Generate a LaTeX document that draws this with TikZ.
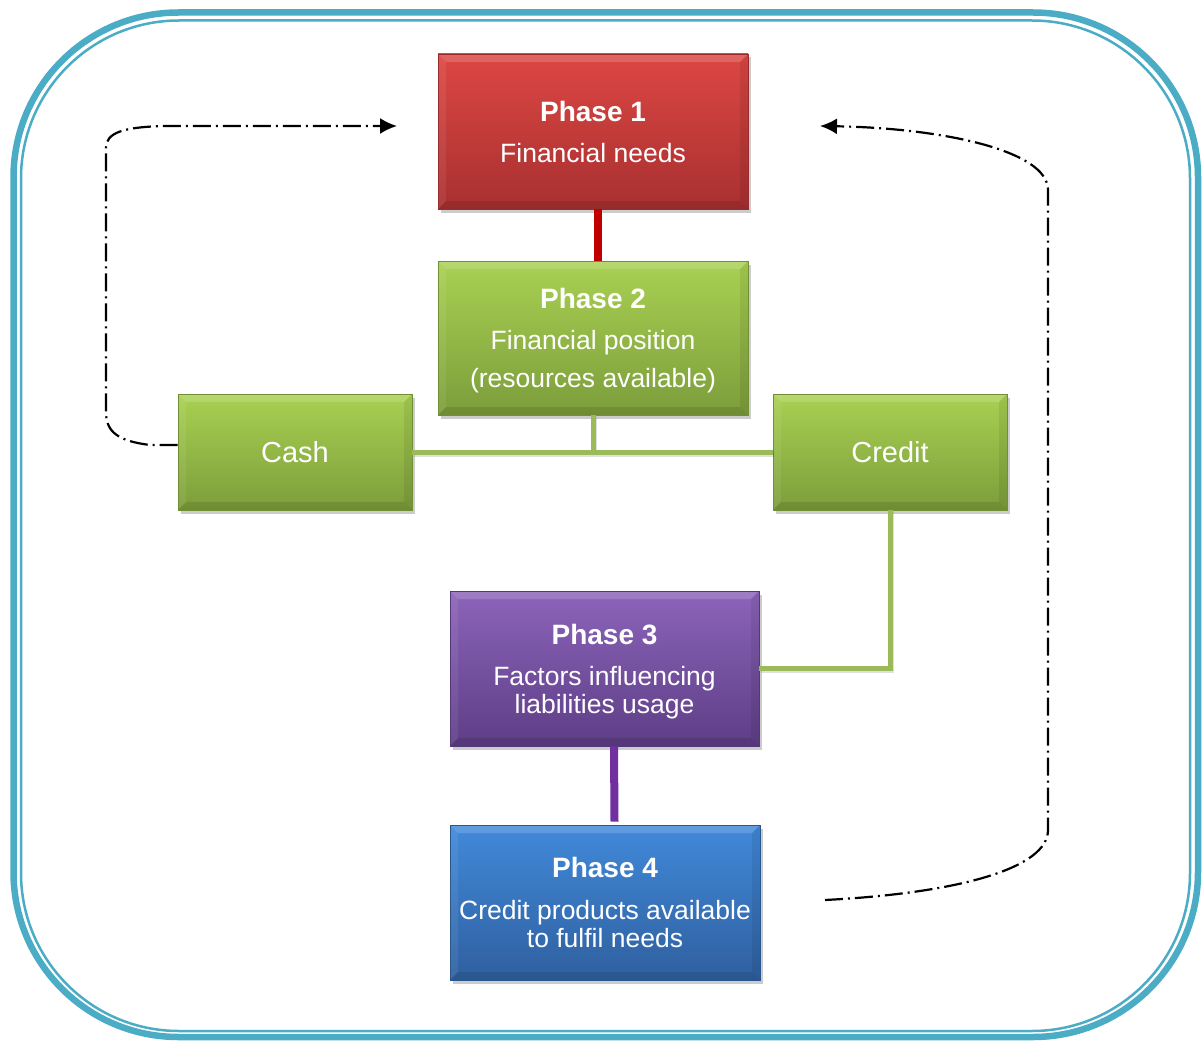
\documentclass[tikz,border=0pt]{standalone}
\usepackage{fontspec}
\setmainfont{Liberation Sans}
\usetikzlibrary{shadows,arrows.meta,calc}
\definecolor{frameblue}{HTML}{4BACC6}
\definecolor{redA}{HTML}{DC4743}
\definecolor{redB}{HTML}{A83030}
\definecolor{redE}{HTML}{9A2B2B}
\definecolor{grnA}{HTML}{A9D152}
\definecolor{grnB}{HTML}{7C9D3B}
\definecolor{grnE}{HTML}{718F35}
\definecolor{purA}{HTML}{8C64BA}
\definecolor{purB}{HTML}{5E3E86}
\definecolor{purE}{HTML}{553879}
\definecolor{bluA}{HTML}{4189DA}
\definecolor{bluB}{HTML}{2F609F}
\definecolor{bluE}{HTML}{2B578F}
\definecolor{glink}{HTML}{9BBB59}
\definecolor{rlink}{HTML}{C00000}
\definecolor{plink}{HTML}{7030A0}
\newcommand\titlef{\bfseries\fontsize{28}{28}\selectfont}
\tikzset{
  boxbase/.style={rectangle, inner sep=0pt, text=white, align=center,
    line width=0.6pt,
    font=\fontsize{26.5}{28}\selectfont,
    drop shadow={shadow xshift=2.5pt, shadow yshift=-3.5pt, opacity=0.2, fill=black},
    path picture={
      \fill[white,opacity=0.16] (path picture bounding box.north west) -- (path picture bounding box.north east)
        -- ([xshift=-8pt,yshift=-8pt]path picture bounding box.north east) -- ([xshift=8pt,yshift=-8pt]path picture bounding box.north west) -- cycle;
      \fill[white,opacity=0.07] (path picture bounding box.north west) -- ([xshift=8pt,yshift=-8pt]path picture bounding box.north west)
        -- ([xshift=8pt,yshift=8pt]path picture bounding box.south west) -- (path picture bounding box.south west) -- cycle;
      \fill[black,opacity=0.07] (path picture bounding box.north east) -- ([xshift=-8pt,yshift=-8pt]path picture bounding box.north east)
        -- ([xshift=-8pt,yshift=8pt]path picture bounding box.south east) -- (path picture bounding box.south east) -- cycle;
      \fill[black,opacity=0.10] (path picture bounding box.south west) -- (path picture bounding box.south east)
        -- ([xshift=-8pt,yshift=8pt]path picture bounding box.south east) -- ([xshift=8pt,yshift=8pt]path picture bounding box.south west) -- cycle;
    }},
  phasebox/.style={boxbase, minimum width=310pt, minimum height=155pt},
  sidebox/.style={boxbase, minimum width=234pt, minimum height=116pt, font=\fontsize{29}{30}\selectfont},
  redfill/.style={top color=redA, bottom color=redB, draw=redE},
  grnfill/.style={top color=grnA, bottom color=grnB, draw=grnE},
  purfill/.style={top color=purA, bottom color=purB, draw=purE},
  blufill/.style={top color=bluA, bottom color=bluB, draw=bluE},
  gline/.style={glink, line width=5pt},
  gshadow/.style={black, opacity=0.12, line width=5pt, transform canvas={xshift=1.5pt,yshift=-2pt}},
  dashdot/.style={black, line width=2.2pt, dash pattern=on 18pt off 5pt on 2pt off 5pt,
    -{Latex[length=17pt,width=16pt]}}
}
\begin{document}
\begin{tikzpicture}[x=1pt,y=-1pt]
\useasboundingbox (0,0) rectangle (1202,1041);
\fill[white] (0,0) rectangle (1202,1041);
\draw[frameblue, line width=6.5pt, rounded corners=165pt] (13.5,12.5) rectangle (1198,1037);
\draw[frameblue, line width=2.5pt, rounded corners=158pt] (21,20.5) rectangle (1190,1031);

\node[phasebox, redfill] (p1) at (593,131.5) {{\titlef Phase 1}\\[13pt]Financial needs};
\node[phasebox, grnfill, minimum height=154pt] (p2) at (593,338) {{\titlef Phase 2}\\[13pt]Financial position\\[10pt]\smash{(resources available)}};
\node[sidebox, grnfill] (cash) at (295,452) {Cash};
\node[sidebox, grnfill] (credit) at (890,452) {Credit};
\node[phasebox, purfill, minimum width=309pt] (p3) at (604.5,668.5) {{\titlef Phase 3}\\[13pt]Factors influencing\\\smash{liabilities usage}};
\node[phasebox, blufill] (p4) at (605,902.5) {{\titlef Phase 4}\\[14pt]Credit products available\\to fulfil needs};

% connectors
\draw[rlink, line width=8pt] ([xshift=5pt]p1.south) -- ([xshift=5pt]p2.north);
\draw[plink, line width=8pt] ([xshift=9.5pt]p3.south) -- ([xshift=9.5pt,yshift=3pt]p4.north);

\draw[gshadow] (p2.south) -- (p2.south |- cash.east);
\draw[gshadow] (cash.east) -- (credit.west);
\draw[gshadow] (credit.south) |- (p3.east);
\draw[gline] (p2.south) -- (p2.south |- cash.east);
\draw[gline] (cash.east) -- (credit.west);
\draw[gline] (credit.south) |- (p3.east);

\coordinate (arrL) at (397,126);
\coordinate (arrRs) at (825,900);
\coordinate (arrR) at (820,126);
\draw[dashdot] ([yshift=7pt]cash.west) -- (150,445) .. controls (118,441) and (106,432) .. (106,412)
  -- (106,148) .. controls (106,133) and (122,127) .. (165,126) -- (arrL);
\draw[dashdot] (arrRs) .. controls (960,893) and (1048,868) .. (1048,830)
  -- (1048,190) .. controls (1048,150) and (940,128) .. (arrR);
\end{tikzpicture}
\end{document}
